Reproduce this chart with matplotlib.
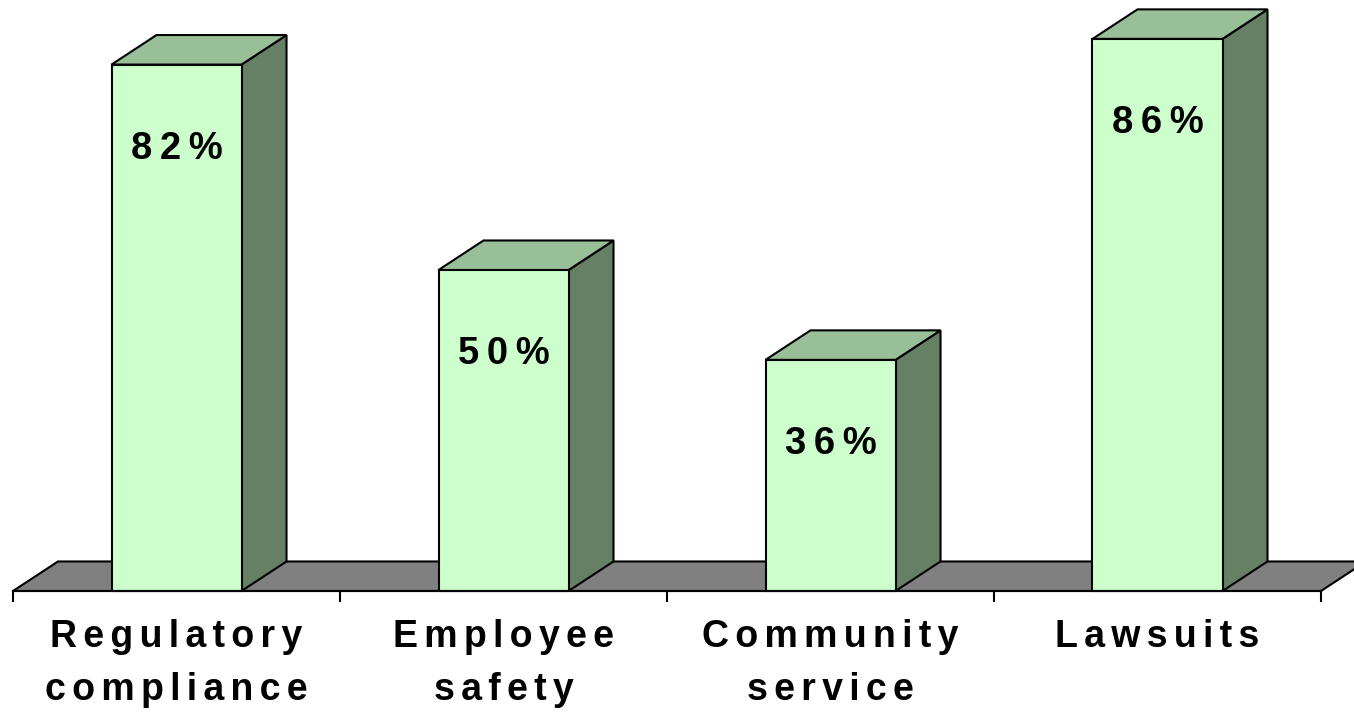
import matplotlib
matplotlib.use("Agg")
import matplotlib.pyplot as plt
from matplotlib.patches import Polygon, Rectangle

categories = ["Regulatory\ncompliance", "Employee\nsafety", "Community\nservice", "Lawsuits"]
values = [82, 50, 36, 86]
value_labels = ["82%", "50%", "36%", "86%"]

FRONT = "#ccffcc"
TOP = "#99bf99"
SIDE = "#668066"
FLOOR = "#808080"
FONT = ["Liberation Sans", "DejaVu Sans"]

# 3-D look: depth offset (x in category units, y in percent units)
DX, DY = 0.1376, 4.6
BAR_W = 0.3976


def spaced(s, gap="\u2006"):
    # wide letter spacing like the original slide
    return "\n".join(gap.join(line) for line in s.split("\n"))


fig = plt.figure(figsize=(13.54, 7.14), dpi=100)
ax = fig.add_axes([0, 0, 1, 1])
n = len(categories)
ax.set_xlim(-0.0398, n + 0.1009)
ax.set_ylim(-19.16, 92.06)

# floor
ax.add_patch(Polygon([(0, 0), (n, 0), (n + DX, DY), (DX, DY)], closed=True,
                     facecolor=FLOOR, edgecolor="black", lw=1.5, zorder=1))

for i, v in enumerate(values):
    x0 = i + 0.5 - BAR_W / 2
    x1 = x0 + BAR_W
    ax.add_patch(Polygon([(x1, 0), (x1 + DX, DY), (x1 + DX, v + DY), (x1, v)], closed=True,
                         facecolor=SIDE, edgecolor="black", lw=1.5, zorder=2))
    ax.add_patch(Polygon([(x0, v), (x1, v), (x1 + DX, v + DY), (x0 + DX, v + DY)], closed=True,
                         facecolor=TOP, edgecolor="black", lw=1.5, zorder=2))
    ax.add_patch(Rectangle((x0, 0), BAR_W, v, facecolor=FRONT, edgecolor="black",
                           lw=1.5, zorder=3))
    ax.text(i + 0.5, v - 13.1, spaced(value_labels[i], "\u2009"), ha="center", va="center",
            fontsize=27.5, fontweight="bold", family=FONT, zorder=4)

# axis: front floor edge with ticks, category labels between ticks
for s in ["left", "right", "top"]:
    ax.spines[s].set_visible(False)
ax.spines["bottom"].set_position(("data", 0))
ax.spines["bottom"].set_bounds(0, n)
ax.spines["bottom"].set_linewidth(1.5)
ax.spines["bottom"].set_zorder(5)
ax.set_yticks([])
ax.set_xticks(range(n + 1))
ax.set_xticklabels([])
ax.tick_params(axis="x", which="major", direction="out", length=8, width=1.5)
ax.set_xticks([i + 0.5 for i in range(n)], minor=True)
ax.set_xticklabels([spaced(c) for c in categories], minor=True, fontsize=27,
                   fontweight="bold", family=FONT, linespacing=1.62)
ax.tick_params(axis="x", which="minor", length=0, pad=20)

fig.savefig("out.png", dpi=100)
